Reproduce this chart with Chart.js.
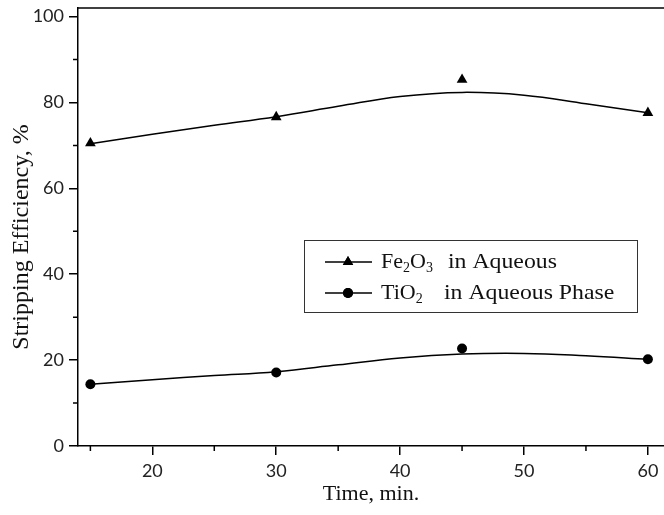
<!DOCTYPE html>
<html>
<head>
<meta charset="utf-8">
<script src="https://cdn.jsdelivr.net/npm/chart.js@4/dist/chart.umd.min.js"></script>
<style>
  html, body { margin: 0; padding: 0; background: #fff; }
  #wrap { width: 664px; height: 515px; }
</style>
</head>
<body>
<div id="wrap"><canvas id="c"></canvas></div>
<script>
// measured points
var times = [15, 30, 45, 60];
var fe2o3 = [70.5, 76.6, 85.3, 77.6];
var tio2 = [14.4, 17.1, 22.7, 20.2];

// fitted curves
var fitTimes = [15, 20, 25, 30, 35, 40, 45, 50, 55, 60];
var fe2o3Fit = [70.4, 72.6, 74.7, 76.7, 79.1, 81.4, 82.35, 81.7, 79.7, 77.6];
var tio2Fit = [14.4, 15.45, 16.4, 17.3, 18.9, 20.5, 21.4, 21.55, 21.0, 20.2];

var xTicks = [20, 30, 40, 50, 60];
var xMinor = [15, 25, 35, 45, 55];
var yTicks = [0, 20, 40, 60, 80, 100];
var yMinor = [10, 30, 50, 70, 90];

function pts(xs, ys) {
    var out = [];
    for (var i = 0; i < xs.length; i++) out.push({x: xs[i], y: ys[i]});
    return out;
}

var extras = {
    id: 'extras',
    afterDraw: function (chart) {
        var ctx = chart.ctx;
        var a = chart.chartArea;
        var xs = chart.scales.x, ys = chart.scales.y;
        ctx.save();
        ctx.strokeStyle = '#000';
        ctx.lineWidth = 1.5;
        // top frame line
        ctx.beginPath();
        ctx.moveTo(a.left, a.top);
        ctx.lineTo(a.right, a.top);
        ctx.stroke();
        // minor ticks
        ctx.beginPath();
        xMinor.forEach(function (v) {
            var p = xs.getPixelForValue(v);
            ctx.moveTo(p, a.bottom);
            ctx.lineTo(p, a.bottom + 5);
        });
        yMinor.forEach(function (v) {
            var p = ys.getPixelForValue(v);
            ctx.moveTo(a.left, p);
            ctx.lineTo(a.left - 5, p);
        });
        ctx.stroke();

        // y axis title
        ctx.save();
        ctx.translate(22, (a.top + a.bottom) / 2 + 10);
        ctx.rotate(-Math.PI / 2);
        ctx.font = '24px "Liberation Serif"';
        ctx.fillStyle = '#111';
        ctx.textAlign = 'center';
        ctx.textBaseline = 'middle';
        ctx.fillText('Stripping Efficiency, %', 0, 0);
        ctx.restore();

        // legend box
        var bx = 304, by = 240, bw = 333, bh = 72;
        ctx.lineWidth = 1;
        ctx.strokeStyle = '#333';
        ctx.fillStyle = '#fff';
        ctx.fillRect(bx, by, bw, bh);
        ctx.strokeRect(bx + 0.5, by + 0.5, bw, bh);

        var rows = [
            {y: 262, style: 'triangle', r: 6, parts: [['Fe', 0], ['2', 1], ['O', 0], ['3', 1]], restX: 448, rest: 'in Aqueous'},
            {y: 293, style: 'circle', r: 5, parts: [['Ti', 0], ['O', 0], ['2', 1]], restX: 444, rest: 'in Aqueous Phase'}
        ];
        rows.forEach(function (row) {
            ctx.strokeStyle = '#000';
            ctx.lineWidth = 1.5;
            ctx.beginPath();
            ctx.moveTo(bx + 21, row.y);
            ctx.lineTo(bx + 68, row.y);
            ctx.stroke();
            ctx.fillStyle = '#000';
            Chart.helpers.drawPoint(ctx, {pointStyle: row.style, radius: row.r, borderWidth: 0}, bx + 44, row.y);
            ctx.fill();
            var tx = bx + 77;
            ctx.textBaseline = 'alphabetic';
            ctx.fillStyle = '#111';
            row.parts.forEach(function (p) {
                ctx.font = p[1] ? '14px "Liberation Serif"' : '22px "Liberation Serif"';
                ctx.fillText(p[0], tx, row.y + 6 + (p[1] ? 4 : 0));
                tx += ctx.measureText(p[0]).width;
            });
            ctx.save();
            ctx.font = '22px "Liberation Serif"';
            ctx.translate(row.restX, row.y + 6);
            ctx.scale(1.08, 1);
            ctx.fillText(row.rest, 0, 0);
            ctx.restore();
        });
        ctx.restore();
    }
};

new Chart(document.getElementById('c'), {
    type: 'line',
    data: {
        datasets: [
            {label: 'Fe2O3 fit', data: pts(fitTimes, fe2o3Fit), borderColor: '#000', borderWidth: 1.5, pointRadius: 0, tension: 0.4, fill: false},
            {label: 'TiO2 fit', data: pts(fitTimes, tio2Fit), borderColor: '#000', borderWidth: 1.5, pointRadius: 0, tension: 0.4, fill: false},
            {label: 'Fe2O3 in Aqueous', data: pts(times, fe2o3), showLine: false, pointStyle: 'triangle', pointRadius: 6.2, pointBackgroundColor: '#000', pointBorderColor: '#000', pointBorderWidth: 0},
            {label: 'TiO2 in Aqueous Phase', data: pts(times, tio2), showLine: false, pointStyle: 'circle', pointRadius: 5, pointBackgroundColor: '#000', pointBorderColor: '#000', pointBorderWidth: 0}
        ]
    },
    options: {
        responsive: true,
        maintainAspectRatio: false,
        animation: false,
        layout: {autoPadding: false, padding: {top: 8, right: 0, left: 0, bottom: 0}},
        plugins: {legend: {display: false}, tooltip: {enabled: false}},
        scales: {
            x: {
                type: 'linear',
                min: 14,
                max: 61.3,
                afterBuildTicks: function (s) { s.ticks = xTicks.map(function (v) { return {value: v}; }); },
                afterFit: function (s) { s.height = 69; s.paddingLeft = 0; s.paddingRight = 0; },
                grid: {drawOnChartArea: false, drawTicks: true, tickLength: 9, color: '#000', lineWidth: 1.5},
                border: {display: true, color: '#000', width: 1.5},
                ticks: {font: {family: 'Lato', size: 18}, color: '#222', padding: 5, maxRotation: 0},
                title: {display: true, text: 'Time, min.', font: {family: 'Liberation Serif', size: 22}, color: '#111', padding: {top: 0, bottom: 8}}
            },
            y: {
                min: 0,
                max: 102,
                afterBuildTicks: function (s) { s.ticks = yTicks.map(function (v) { return {value: v}; }); },
                afterFit: function (s) { s.width = 78; s.paddingTop = 0; s.paddingBottom = 0; },
                grid: {drawOnChartArea: false, drawTicks: true, tickLength: 9, color: '#000', lineWidth: 1.5},
                border: {display: true, color: '#000', width: 1.5},
                ticks: {font: {family: 'Lato', size: 18}, color: '#222', padding: 5}
            }
        }
    },
    plugins: [extras]
});
</script>
</body>
</html>
